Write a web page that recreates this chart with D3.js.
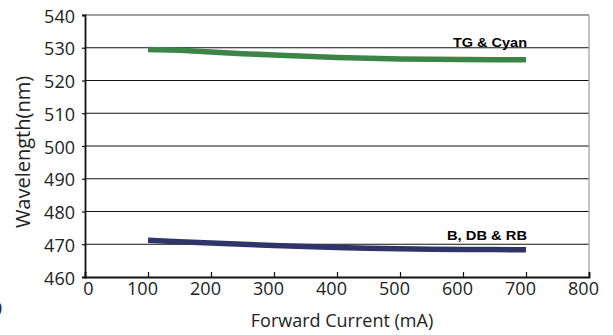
<!DOCTYPE html>
<html>
<head>
<meta charset="utf-8">
<script src="https://cdn.jsdelivr.net/npm/d3@7"></script>
<style>
  body { margin: 0; background: #fff; }
  svg { display: block; }
</style>
</head>
<body>
<script>
// values
var currents = [100, 150, 200, 250, 300, 350, 400, 450, 500, 550, 600, 650, 700];
var tgCyan = [529.5, 529.2, 528.7, 528.2, 527.8, 527.4, 527.0, 526.8, 526.6, 526.5, 526.4, 526.3, 526.3];
var bDbRb = [471.2, 470.8, 470.4, 470.0, 469.6, 469.3, 469.0, 468.8, 468.6, 468.5, 468.4, 468.4, 468.3];
var xTicks = [0, 100, 200, 300, 400, 500, 600, 700, 800];
var yTicks = [460, 470, 480, 490, 500, 510, 520, 530, 540];

var width = 613, height = 335;
var margin = {top: 15, right: 24, bottom: 58, left: 85};

var svg = d3.select("body").append("svg")
    .attr("width", width)
    .attr("height", height);

var x = d3.scaleLinear().domain([0, 800]).range([margin.left, width - margin.right]);
var y = d3.scaleLinear().domain([460, 540]).range([height - margin.bottom, margin.top]);

var font = "'Open Sans', sans-serif";

// gridlines
svg.selectAll(".grid")
   .data(yTicks.slice(1, -1))
   .enter()
   .append("line")
   .attr("x1", x(0))
   .attr("x2", x(800))
   .attr("y1", function(d){ return y(d); })
   .attr("y2", function(d){ return y(d); })
   .attr("stroke", "#111")
   .attr("stroke-width", 1.2);

// top and right frame
svg.append("line")
   .attr("x1", x(0)).attr("x2", x(800))
   .attr("y1", y(540)).attr("y2", y(540))
   .attr("stroke", "#444").attr("stroke-width", 1.2);
svg.append("line")
   .attr("x1", x(800)).attr("x2", x(800))
   .attr("y1", y(540)).attr("y2", y(460))
   .attr("stroke", "#999").attr("stroke-width", 1.2);

// series
var line = d3.line()
    .x(function(d){ return x(d[0]); })
    .y(function(d){ return y(d[1]); });

svg.append("path")
   .datum(d3.zip(currents, tgCyan))
   .attr("d", line)
   .attr("fill", "none")
   .attr("stroke", "#3b8646")
   .attr("stroke-width", 5.5);

svg.append("path")
   .datum(d3.zip(currents, bDbRb))
   .attr("d", line)
   .attr("fill", "none")
   .attr("stroke", "#2f3568")
   .attr("stroke-width", 5.5);

// axes
var xAxis = svg.append("g")
   .attr("transform", "translate(0," + y(460) + ")")
   .call(d3.axisBottom(x).tickValues(xTicks).tickSize(-5).tickPadding(5));
var yAxis = svg.append("g")
   .attr("transform", "translate(" + x(0) + ",0)")
   .call(d3.axisLeft(y).tickValues(yTicks).tickSize(3).tickPadding(7));

[xAxis, yAxis].forEach(function(a){
  a.select(".domain").attr("stroke", "#111").attr("stroke-width", 1.8);
  a.selectAll(".tick line").attr("stroke", "#111").attr("stroke-width", 1.2);
  a.selectAll(".tick text")
   .attr("font-family", font)
   .attr("font-size", 18)
   .attr("fill", "#222");
});
xAxis.selectAll(".tick").filter(function(d){ return d == 0; }).select("line").remove();
// the original labels sit a little left of their ticks
xAxis.selectAll(".tick text").attr("dx", function(d){ return d == 0 ? 3 : -6; });
yAxis.selectAll(".tick text").attr("dy", "0.4em");

// series labels
var labelFont = "'Liberation Sans', Arial, sans-serif";
svg.append("text")
   .attr("x", 453).attr("y", y(530) - 1)
   .attr("font-family", labelFont)
   .attr("font-weight", "bold")
   .attr("font-size", 12.5)
   .attr("textLength", 74)
   .attr("lengthAdjust", "spacingAndGlyphs")
   .text("TG & Cyan");

svg.append("text")
   .attr("x", 447).attr("y", y(470) - 4)
   .attr("font-family", labelFont)
   .attr("font-weight", "bold")
   .attr("font-size", 12.5)
   .attr("textLength", 80)
   .attr("lengthAdjust", "spacingAndGlyphs")
   .text("B, DB & RB");

// axis titles
svg.append("text")
   .attr("x", 342).attr("y", 327)
   .attr("text-anchor", "middle")
   .attr("font-family", font)
   .attr("font-size", 18)
   .attr("fill", "#222")
   .text("Forward Current (mA)");

svg.append("text")
   .attr("transform", "translate(30,152) rotate(-90)")
   .attr("text-anchor", "middle")
   .attr("font-family", font)
   .attr("font-size", 20)
   .attr("fill", "#222")
   .text("Wavelength(nm)");

// stray clipped label at the left edge
svg.append("text")
   .attr("x", -8).attr("y", 315)
   .attr("font-family", font)
   .attr("font-size", 18)
   .attr("fill", "#222")
   .text("0");
</script>
</body>
</html>
